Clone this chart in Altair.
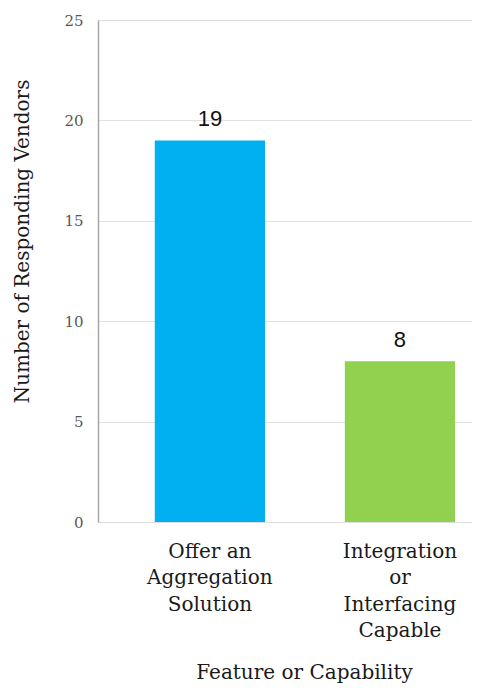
import altair as alt
import pandas as pd

categories = ["Offer an\nAggregation\nSolution", "Integration\nor\nInterfacing\nCapable"]
values = [19, 8]
colors = ["#00B0F0", "#92D050"]
y_ticks = [0, 5, 10, 15, 20, 25]

df = pd.DataFrame({"cat": categories, "val": values, "color": colors})

serif = "DejaVu Serif"

x_enc = alt.X(
    "cat:N",
    sort=categories,
    scale=alt.Scale(paddingInner=0.42, paddingOuter=0.194, align=0.77),
    axis=alt.Axis(
        title="Feature or Capability",
        labelExpr="split(datum.label, '\\n')",
        labelAngle=0,
        labelFont=serif,
        labelFontSize=20,
        labelColor="#1a1a1a",
        labelLineHeight=26.5,
        labelPadding=19,
        labelBaseline="top",
        domain=False,
        ticks=False,
        grid=False,
        titleFont=serif,
        titleFontSize=20,
        titleFontWeight="normal",
        titleColor="#1a1a1a",
        titleX=206,
        titleY=150,
        titleBaseline="middle",
        titleAlign="center",
    ),
)

y_enc = alt.Y(
    "val:Q",
    scale=alt.Scale(domain=[0, 25], nice=False),
    axis=alt.Axis(
        title="Number of Responding Vendors",
        values=y_ticks,
        labelFont=serif,
        labelFontSize=15,
        labelColor="#595959",
        labelPadding=15,
        ticks=False,
        domain=True,
        domainColor="#a6a6a6",
        domainWidth=1.5,
        grid=True,
        gridColor="#e0e0e0",
        gridWidth=1,
        gridOpacity={"condition": {"test": "datum.value == 0 || datum.value == 25", "value": 0}, "value": 1},
        titleFont=serif,
        titleFontSize=20,
        titleFontWeight="normal",
        titleColor="#1a1a1a",
        titleX=-76,
        titleY=221,
        titleAngle=-90,
        titleAlign="center",
        titleBaseline="middle",
    ),
)

bars = alt.Chart(df).mark_bar().encode(
    x=x_enc,
    y=y_enc,
    color=alt.Color("color:N", scale=None, legend=None),
)

labels = alt.Chart(df).mark_text(
    baseline="alphabetic", dy=-14, font="Liberation Sans", fontSize=22, color="#111111"
).encode(
    x=alt.X("cat:N", sort=categories),
    y=alt.Y("val:Q"),
    text=alt.Text("val:Q"),
)

chart = (
    alt.layer(bars, labels)
    .properties(
        width=374,
        height=502,
        autosize=alt.AutoSizeParams(type="none"),
        padding={"left": 90, "top": 12, "right": 0, "bottom": 162},
    )
    .configure_view(stroke=None)
    .configure(background="white")
)

chart.save("out.html", embed_options={"renderer": "svg", "actions": False})
